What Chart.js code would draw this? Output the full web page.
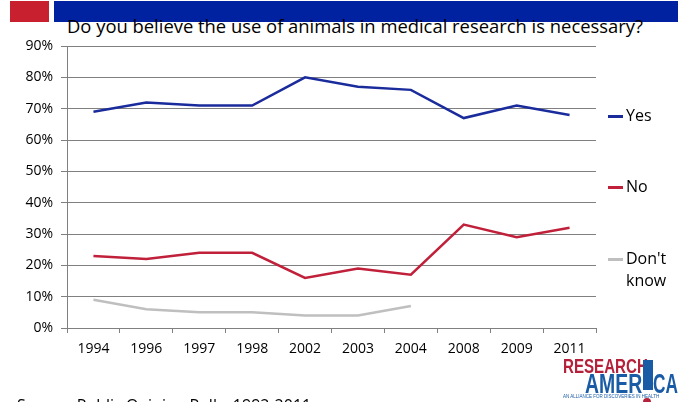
<!DOCTYPE html>
<html>
<head>
<meta charset="utf-8">
<script src="https://cdn.jsdelivr.net/npm/chart.js@4/dist/chart.umd.min.js"></script>
<style>
  html, body { margin: 0; padding: 0; background: #fff; overflow: hidden; }
  body { width: 678px; height: 402px; position: relative; font-family: 'Open Sans', sans-serif; color: #000; }
  #wrap { position: absolute; left: 0; top: 0; width: 678px; height: 402px; }
  .bar { position: absolute; top: 1px; height: 21px; }
  .title { position: absolute; left: 67px; top: 13px; font-size: 18.4px; white-space: nowrap; }
  .leg { position: absolute; left: 608px; font-size: 16px; line-height: 22px; }
  .leg i { position: absolute; left: 0; top: 11px; width: 15px; height: 2.5px; }
  .leg span { display: block; margin-left: 18px; }
  .source { position: absolute; left: 17px; top: 394px; font-size: 16px; white-space: nowrap; }
  .logo { position: absolute; left: 0; top: 0; font-family: 'Liberation Sans', sans-serif; font-weight: bold; }
  .logo div { position: absolute; white-space: nowrap; transform-origin: 0 0; }
</style>
</head>
<body>
<div class="bar" style="left:10px;width:39px;background:#c8202f"></div>
<div class="bar" style="left:54px;width:624px;background:#0021a0"></div>
<div class="title">Do you believe the use of animals in medical research is necessary?</div>
<div id="wrap"><canvas id="c" width="678" height="402"></canvas></div>
<div class="leg" style="top:104px"><i style="background:#1a2b9c"></i><span>Yes</span></div>
<div class="leg" style="top:175px"><i style="background:#c0203a"></i><span>No</span></div>
<div class="leg" style="top:247px"><i style="background:#bfbfbf"></i><span>Don't<br>know</span></div>
<div class="source">Source: Public Opinion Polls, 1992-2011</div>
<div class="logo">
  <div style="left:563px;top:354px;color:#b5213a;font-size:21px;transform:scaleX(0.72)">RESEARCH</div>
  <div style="left:643px;top:360px;width:10px;height:30px;background:#1a5ba6"></div>
  <div style="left:585px;top:369px;color:#1a5ba6;font-size:27px;transform:scaleX(0.72)">AMER</div>
  <div style="left:653px;top:369px;color:#1a5ba6;font-size:27px;transform:scaleX(0.64)">CA</div>
  <div style="left:563px;top:393px;color:#1a5ba6;font-size:5px;font-weight:normal;transform:scaleX(0.9)">AN ALLIANCE FOR DISCOVERIES IN HEALTH</div>
  <div style="left:643px;top:398px;width:8px;height:8px;border-radius:50%;background:#b5213a"></div>
</div>
<script>
const years = ['1994', '1996', '1997', '1998', '2002', '2003', '2004', '2008', '2009', '2011'];
const yes = [69, 72, 71, 71, 80, 77, 76, 67, 71, 68];
const no = [23, 22, 24, 24, 16, 19, 17, 33, 29, 32];
const dontKnow = [9, 6, 5, 5, 4, 4, 7, null, null, null];
const yTicks = [0, 10, 20, 30, 40, 50, 60, 70, 80, 90];

const tickFont = { family: 'Open Sans', size: 14 };

new Chart(document.getElementById('c'), {
    type: 'line',
    data: {
        labels: years,
        datasets: [
            { label: 'Yes', data: yes, borderColor: '#1a2b9c', borderWidth: 2.5, pointRadius: 0, tension: 0 },
            { label: 'No', data: no, borderColor: '#c0203a', borderWidth: 2.5, pointRadius: 0, tension: 0 },
            { label: "Don't know", data: dontKnow, borderColor: '#bfbfbf', borderWidth: 2.5, pointRadius: 0, tension: 0 }
        ]
    },
    options: {
        responsive: false,
        animation: false,
        layout: { padding: { left: 0, top: 46, right: 82, bottom: 0 } },
        plugins: { legend: { display: false }, tooltip: { enabled: false } },
        scales: {
            x: {
                offset: true,
                afterFit: (s) => { s.height = 74; },
                grid: { offset: true, drawOnChartArea: false, drawTicks: true, tickLength: 5, color: '#808080' },
                border: { display: true, color: '#808080' },
                ticks: { color: '#000', font: tickFont, padding: 8, maxRotation: 0 }
            },
            y: {
                min: 0,
                max: 90,
                afterFit: (s) => { s.width = 67; },
                afterBuildTicks: (s) => { s.ticks = yTicks.map(v => ({ value: v })); },
                grid: { color: '#808080', lineWidth: 1, tickLength: 6 },
                border: { display: true, color: '#808080' },
                ticks: { color: '#000', font: tickFont, padding: 8, callback: (v) => v + '%' }
            }
        }
    }
});
</script>
</body>
</html>
